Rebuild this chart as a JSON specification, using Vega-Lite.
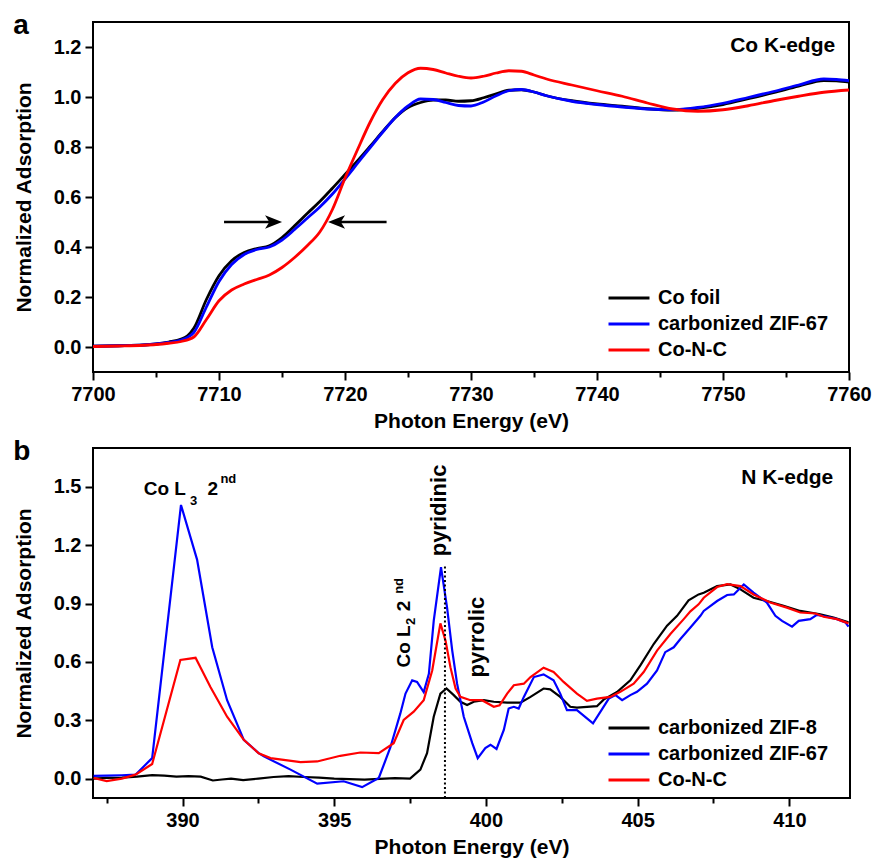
{
  "$schema": "https://vega.github.io/schema/vega-lite/v6.json",
  "background": "white",
  "padding": {"left": 12, "top": 11, "right": 2, "bottom": 2},
  "spacing": 5,
  "config": {
    "font": "Liberation Sans",
    "view": {"stroke": "black", "strokeWidth": 2},
    "axis": {
      "domain": false, "grid": false, "ticks": true, "tickColor": "black", "tickWidth": 2,
      "labelFont": "Liberation Sans", "labelFontSize": 20, "labelFontWeight": "bold", "labelColor": "black",
      "labelPadding": 4, "labelOverlap": false, "labelFlush": false,
      "titleFont": "Liberation Sans", "titleFontSize": 21, "titleFontWeight": "bold", "titleColor": "black"
    },
    "axisX": {"titlePadding": 6},
    "axisY": {"titlePadding": 19},
    "legend": {
      "title": null, "orient": "none", "symbolType": "M-2,0L2,0", "symbolSize": 420, "symbolStrokeWidth": 3,
      "labelFont": "Liberation Sans", "labelFontSize": 20, "labelFontWeight": "bold", "labelColor": "black",
      "labelOffset": 17, "padding": 0, "rowPadding": 4, "labelLimit": 400
    }
  },
  "datasets": {
    "a": [
      {"E":7700,"v":0.003,"s":"Co foil"},{"E":7702,"v":0.005,"s":"Co foil"},{"E":7704,"v":0.008,"s":"Co foil"},{"E":7705,"v":0.012,"s":"Co foil"},{"E":7706,"v":0.02,"s":"Co foil"},{"E":7707,"v":0.032,"s":"Co foil"},{"E":7707.5,"v":0.045,"s":"Co foil"},{"E":7708,"v":0.075,"s":"Co foil"},{"E":7709,"v":0.19,"s":"Co foil"},{"E":7710,"v":0.285,"s":"Co foil"},{"E":7711,"v":0.345,"s":"Co foil"},{"E":7712,"v":0.378,"s":"Co foil"},{"E":7713,"v":0.394,"s":"Co foil"},{"E":7714,"v":0.405,"s":"Co foil"},{"E":7715,"v":0.438,"s":"Co foil"},{"E":7716,"v":0.485,"s":"Co foil"},{"E":7717,"v":0.534,"s":"Co foil"},{"E":7718,"v":0.582,"s":"Co foil"},{"E":7719,"v":0.635,"s":"Co foil"},{"E":7720,"v":0.69,"s":"Co foil"},{"E":7721,"v":0.745,"s":"Co foil"},{"E":7722,"v":0.803,"s":"Co foil"},{"E":7723,"v":0.862,"s":"Co foil"},{"E":7724,"v":0.918,"s":"Co foil"},{"E":7725,"v":0.958,"s":"Co foil"},{"E":7726,"v":0.978,"s":"Co foil"},{"E":7727,"v":0.988,"s":"Co foil"},{"E":7728,"v":0.988,"s":"Co foil"},{"E":7729,"v":0.983,"s":"Co foil"},{"E":7730,"v":0.985,"s":"Co foil"},{"E":7731,"v":0.997,"s":"Co foil"},{"E":7732,"v":1.013,"s":"Co foil"},{"E":7733,"v":1.027,"s":"Co foil"},{"E":7734,"v":1.029,"s":"Co foil"},{"E":7735,"v":1.02,"s":"Co foil"},{"E":7736,"v":1.005,"s":"Co foil"},{"E":7738,"v":0.985,"s":"Co foil"},{"E":7740,"v":0.972,"s":"Co foil"},{"E":7742,"v":0.963,"s":"Co foil"},{"E":7744,"v":0.953,"s":"Co foil"},{"E":7746,"v":0.948,"s":"Co foil"},{"E":7748,"v":0.955,"s":"Co foil"},{"E":7750,"v":0.97,"s":"Co foil"},{"E":7752,"v":0.993,"s":"Co foil"},{"E":7754,"v":1.017,"s":"Co foil"},{"E":7756,"v":1.043,"s":"Co foil"},{"E":7758,"v":1.066,"s":"Co foil"},{"E":7759,"v":1.065,"s":"Co foil"},{"E":7760,"v":1.06,"s":"Co foil"},
      {"E":7700,"v":0.003,"s":"carbonized ZIF-67"},{"E":7702,"v":0.005,"s":"carbonized ZIF-67"},{"E":7704,"v":0.008,"s":"carbonized ZIF-67"},{"E":7705,"v":0.012,"s":"carbonized ZIF-67"},{"E":7706,"v":0.018,"s":"carbonized ZIF-67"},{"E":7707,"v":0.028,"s":"carbonized ZIF-67"},{"E":7707.5,"v":0.038,"s":"carbonized ZIF-67"},{"E":7708,"v":0.058,"s":"carbonized ZIF-67"},{"E":7709,"v":0.16,"s":"carbonized ZIF-67"},{"E":7710,"v":0.262,"s":"carbonized ZIF-67"},{"E":7711,"v":0.33,"s":"carbonized ZIF-67"},{"E":7712,"v":0.37,"s":"carbonized ZIF-67"},{"E":7713,"v":0.39,"s":"carbonized ZIF-67"},{"E":7714,"v":0.4,"s":"carbonized ZIF-67"},{"E":7715,"v":0.428,"s":"carbonized ZIF-67"},{"E":7716,"v":0.47,"s":"carbonized ZIF-67"},{"E":7717,"v":0.515,"s":"carbonized ZIF-67"},{"E":7718,"v":0.56,"s":"carbonized ZIF-67"},{"E":7719,"v":0.612,"s":"carbonized ZIF-67"},{"E":7720,"v":0.672,"s":"carbonized ZIF-67"},{"E":7721,"v":0.735,"s":"carbonized ZIF-67"},{"E":7722,"v":0.798,"s":"carbonized ZIF-67"},{"E":7723,"v":0.86,"s":"carbonized ZIF-67"},{"E":7724,"v":0.918,"s":"carbonized ZIF-67"},{"E":7725,"v":0.964,"s":"carbonized ZIF-67"},{"E":7726,"v":0.992,"s":"carbonized ZIF-67"},{"E":7727,"v":0.99,"s":"carbonized ZIF-67"},{"E":7728,"v":0.978,"s":"carbonized ZIF-67"},{"E":7729,"v":0.966,"s":"carbonized ZIF-67"},{"E":7730,"v":0.964,"s":"carbonized ZIF-67"},{"E":7731,"v":0.98,"s":"carbonized ZIF-67"},{"E":7732,"v":1.005,"s":"carbonized ZIF-67"},{"E":7733,"v":1.025,"s":"carbonized ZIF-67"},{"E":7734,"v":1.03,"s":"carbonized ZIF-67"},{"E":7735,"v":1.02,"s":"carbonized ZIF-67"},{"E":7736,"v":1.005,"s":"carbonized ZIF-67"},{"E":7738,"v":0.983,"s":"carbonized ZIF-67"},{"E":7740,"v":0.97,"s":"carbonized ZIF-67"},{"E":7742,"v":0.96,"s":"carbonized ZIF-67"},{"E":7744,"v":0.952,"s":"carbonized ZIF-67"},{"E":7746,"v":0.949,"s":"carbonized ZIF-67"},{"E":7748,"v":0.958,"s":"carbonized ZIF-67"},{"E":7750,"v":0.975,"s":"carbonized ZIF-67"},{"E":7752,"v":0.998,"s":"carbonized ZIF-67"},{"E":7754,"v":1.022,"s":"carbonized ZIF-67"},{"E":7756,"v":1.048,"s":"carbonized ZIF-67"},{"E":7758,"v":1.072,"s":"carbonized ZIF-67"},{"E":7759,"v":1.07,"s":"carbonized ZIF-67"},{"E":7760,"v":1.065,"s":"carbonized ZIF-67"},
      {"E":7700,"v":0.002,"s":"Co-N-C"},{"E":7702,"v":0.004,"s":"Co-N-C"},{"E":7704,"v":0.007,"s":"Co-N-C"},{"E":7705,"v":0.01,"s":"Co-N-C"},{"E":7706,"v":0.015,"s":"Co-N-C"},{"E":7707,"v":0.022,"s":"Co-N-C"},{"E":7708,"v":0.04,"s":"Co-N-C"},{"E":7709,"v":0.11,"s":"Co-N-C"},{"E":7710,"v":0.185,"s":"Co-N-C"},{"E":7711,"v":0.228,"s":"Co-N-C"},{"E":7712,"v":0.252,"s":"Co-N-C"},{"E":7713,"v":0.27,"s":"Co-N-C"},{"E":7714,"v":0.288,"s":"Co-N-C"},{"E":7715,"v":0.318,"s":"Co-N-C"},{"E":7716,"v":0.358,"s":"Co-N-C"},{"E":7717,"v":0.405,"s":"Co-N-C"},{"E":7718,"v":0.46,"s":"Co-N-C"},{"E":7719,"v":0.55,"s":"Co-N-C"},{"E":7720,"v":0.675,"s":"Co-N-C"},{"E":7721,"v":0.79,"s":"Co-N-C"},{"E":7722,"v":0.9,"s":"Co-N-C"},{"E":7723,"v":0.99,"s":"Co-N-C"},{"E":7724,"v":1.055,"s":"Co-N-C"},{"E":7725,"v":1.097,"s":"Co-N-C"},{"E":7726,"v":1.115,"s":"Co-N-C"},{"E":7727,"v":1.11,"s":"Co-N-C"},{"E":7728,"v":1.096,"s":"Co-N-C"},{"E":7729,"v":1.083,"s":"Co-N-C"},{"E":7730,"v":1.076,"s":"Co-N-C"},{"E":7731,"v":1.083,"s":"Co-N-C"},{"E":7732,"v":1.096,"s":"Co-N-C"},{"E":7733,"v":1.105,"s":"Co-N-C"},{"E":7734,"v":1.103,"s":"Co-N-C"},{"E":7735,"v":1.088,"s":"Co-N-C"},{"E":7736,"v":1.072,"s":"Co-N-C"},{"E":7738,"v":1.048,"s":"Co-N-C"},{"E":7740,"v":1.025,"s":"Co-N-C"},{"E":7742,"v":1.003,"s":"Co-N-C"},{"E":7744,"v":0.976,"s":"Co-N-C"},{"E":7746,"v":0.952,"s":"Co-N-C"},{"E":7748,"v":0.943,"s":"Co-N-C"},{"E":7750,"v":0.949,"s":"Co-N-C"},{"E":7752,"v":0.965,"s":"Co-N-C"},{"E":7754,"v":0.985,"s":"Co-N-C"},{"E":7756,"v":1.003,"s":"Co-N-C"},{"E":7758,"v":1.019,"s":"Co-N-C"},{"E":7760,"v":1.028,"s":"Co-N-C"}
    ],
    "b": [
      {"E":387.07,"v":0.0,"s":"carbonized ZIF-8"},{"E":387.5,"v":0.003,"s":"carbonized ZIF-8"},{"E":388.0,"v":0.005,"s":"carbonized ZIF-8"},{"E":388.5,"v":0.01,"s":"carbonized ZIF-8"},{"E":389.0,"v":0.018,"s":"carbonized ZIF-8"},{"E":389.4,"v":0.015,"s":"carbonized ZIF-8"},{"E":389.8,"v":0.01,"s":"carbonized ZIF-8"},{"E":390.2,"v":0.012,"s":"carbonized ZIF-8"},{"E":390.6,"v":0.01,"s":"carbonized ZIF-8"},{"E":391.0,"v":-0.01,"s":"carbonized ZIF-8"},{"E":391.3,"v":-0.005,"s":"carbonized ZIF-8"},{"E":391.6,"v":0.0,"s":"carbonized ZIF-8"},{"E":392.0,"v":-0.008,"s":"carbonized ZIF-8"},{"E":392.5,"v":0.0,"s":"carbonized ZIF-8"},{"E":393.0,"v":0.008,"s":"carbonized ZIF-8"},{"E":393.5,"v":0.012,"s":"carbonized ZIF-8"},{"E":394.0,"v":0.008,"s":"carbonized ZIF-8"},{"E":394.5,"v":0.005,"s":"carbonized ZIF-8"},{"E":395.0,"v":0.0,"s":"carbonized ZIF-8"},{"E":395.5,"v":-0.003,"s":"carbonized ZIF-8"},{"E":396.0,"v":-0.005,"s":"carbonized ZIF-8"},{"E":396.5,"v":-0.002,"s":"carbonized ZIF-8"},{"E":397.0,"v":0.002,"s":"carbonized ZIF-8"},{"E":397.5,"v":0.0,"s":"carbonized ZIF-8"},{"E":397.84,"v":0.046,"s":"carbonized ZIF-8"},{"E":398.06,"v":0.131,"s":"carbonized ZIF-8"},{"E":398.28,"v":0.318,"s":"carbonized ZIF-8"},{"E":398.5,"v":0.437,"s":"carbonized ZIF-8"},{"E":398.7,"v":0.463,"s":"carbonized ZIF-8"},{"E":398.94,"v":0.429,"s":"carbonized ZIF-8"},{"E":399.16,"v":0.395,"s":"carbonized ZIF-8"},{"E":399.38,"v":0.378,"s":"carbonized ZIF-8"},{"E":399.6,"v":0.395,"s":"carbonized ZIF-8"},{"E":399.93,"v":0.403,"s":"carbonized ZIF-8"},{"E":400.26,"v":0.395,"s":"carbonized ZIF-8"},{"E":400.7,"v":0.39,"s":"carbonized ZIF-8"},{"E":401.14,"v":0.39,"s":"carbonized ZIF-8"},{"E":401.47,"v":0.42,"s":"carbonized ZIF-8"},{"E":401.9,"v":0.463,"s":"carbonized ZIF-8"},{"E":402.12,"v":0.459,"s":"carbonized ZIF-8"},{"E":402.45,"v":0.42,"s":"carbonized ZIF-8"},{"E":402.78,"v":0.369,"s":"carbonized ZIF-8"},{"E":403.0,"v":0.365,"s":"carbonized ZIF-8"},{"E":403.33,"v":0.369,"s":"carbonized ZIF-8"},{"E":403.66,"v":0.372,"s":"carbonized ZIF-8"},{"E":403.88,"v":0.406,"s":"carbonized ZIF-8"},{"E":404.32,"v":0.445,"s":"carbonized ZIF-8"},{"E":404.76,"v":0.505,"s":"carbonized ZIF-8"},{"E":405.09,"v":0.582,"s":"carbonized ZIF-8"},{"E":405.53,"v":0.692,"s":"carbonized ZIF-8"},{"E":405.97,"v":0.786,"s":"carbonized ZIF-8"},{"E":406.3,"v":0.837,"s":"carbonized ZIF-8"},{"E":406.68,"v":0.917,"s":"carbonized ZIF-8"},{"E":407.01,"v":0.947,"s":"carbonized ZIF-8"},{"E":407.18,"v":0.956,"s":"carbonized ZIF-8"},{"E":407.62,"v":0.99,"s":"carbonized ZIF-8"},{"E":408.06,"v":0.998,"s":"carbonized ZIF-8"},{"E":408.39,"v":0.973,"s":"carbonized ZIF-8"},{"E":408.82,"v":0.93,"s":"carbonized ZIF-8"},{"E":409.26,"v":0.913,"s":"carbonized ZIF-8"},{"E":409.81,"v":0.888,"s":"carbonized ZIF-8"},{"E":410.36,"v":0.862,"s":"carbonized ZIF-8"},{"E":411.02,"v":0.845,"s":"carbonized ZIF-8"},{"E":411.46,"v":0.828,"s":"carbonized ZIF-8"},{"E":411.95,"v":0.803,"s":"carbonized ZIF-8"},
      {"E":387.07,"v":0.014,"s":"carbonized ZIF-67"},{"E":387.5,"v":0.015,"s":"carbonized ZIF-67"},{"E":388.0,"v":0.017,"s":"carbonized ZIF-67"},{"E":388.45,"v":0.02,"s":"carbonized ZIF-67"},{"E":389.0,"v":0.105,"s":"carbonized ZIF-67"},{"E":389.95,"v":1.407,"s":"carbonized ZIF-67"},{"E":390.48,"v":1.126,"s":"carbonized ZIF-67"},{"E":390.98,"v":0.675,"s":"carbonized ZIF-67"},{"E":391.47,"v":0.403,"s":"carbonized ZIF-67"},{"E":392.02,"v":0.199,"s":"carbonized ZIF-67"},{"E":392.51,"v":0.131,"s":"carbonized ZIF-67"},{"E":392.68,"v":0.114,"s":"carbonized ZIF-67"},{"E":393.56,"v":0.046,"s":"carbonized ZIF-67"},{"E":394.44,"v":-0.026,"s":"carbonized ZIF-67"},{"E":395.31,"v":-0.014,"s":"carbonized ZIF-67"},{"E":395.92,"v":-0.044,"s":"carbonized ZIF-67"},{"E":396.47,"v":0.003,"s":"carbonized ZIF-67"},{"E":396.85,"v":0.16,"s":"carbonized ZIF-67"},{"E":397.18,"v":0.335,"s":"carbonized ZIF-67"},{"E":397.35,"v":0.437,"s":"carbonized ZIF-67"},{"E":397.57,"v":0.505,"s":"carbonized ZIF-67"},{"E":397.73,"v":0.497,"s":"carbonized ZIF-67"},{"E":397.95,"v":0.445,"s":"carbonized ZIF-67"},{"E":398.12,"v":0.539,"s":"carbonized ZIF-67"},{"E":398.28,"v":0.811,"s":"carbonized ZIF-67"},{"E":398.52,"v":1.087,"s":"carbonized ZIF-67"},{"E":398.72,"v":0.879,"s":"carbonized ZIF-67"},{"E":398.89,"v":0.658,"s":"carbonized ZIF-67"},{"E":399.05,"v":0.488,"s":"carbonized ZIF-67"},{"E":399.27,"v":0.318,"s":"carbonized ZIF-67"},{"E":399.55,"v":0.182,"s":"carbonized ZIF-67"},{"E":399.73,"v":0.105,"s":"carbonized ZIF-67"},{"E":399.98,"v":0.157,"s":"carbonized ZIF-67"},{"E":400.15,"v":0.174,"s":"carbonized ZIF-67"},{"E":400.35,"v":0.152,"s":"carbonized ZIF-67"},{"E":400.59,"v":0.25,"s":"carbonized ZIF-67"},{"E":400.75,"v":0.36,"s":"carbonized ZIF-67"},{"E":400.92,"v":0.369,"s":"carbonized ZIF-67"},{"E":401.08,"v":0.36,"s":"carbonized ZIF-67"},{"E":401.25,"v":0.42,"s":"carbonized ZIF-67"},{"E":401.58,"v":0.522,"s":"carbonized ZIF-67"},{"E":401.9,"v":0.536,"s":"carbonized ZIF-67"},{"E":402.23,"v":0.505,"s":"carbonized ZIF-67"},{"E":402.45,"v":0.437,"s":"carbonized ZIF-67"},{"E":402.67,"v":0.352,"s":"carbonized ZIF-67"},{"E":403.0,"v":0.352,"s":"carbonized ZIF-67"},{"E":403.53,"v":0.284,"s":"carbonized ZIF-67"},{"E":404.05,"v":0.411,"s":"carbonized ZIF-67"},{"E":404.27,"v":0.429,"s":"carbonized ZIF-67"},{"E":404.49,"v":0.403,"s":"carbonized ZIF-67"},{"E":404.76,"v":0.429,"s":"carbonized ZIF-67"},{"E":404.98,"v":0.446,"s":"carbonized ZIF-67"},{"E":405.31,"v":0.488,"s":"carbonized ZIF-67"},{"E":405.64,"v":0.556,"s":"carbonized ZIF-67"},{"E":405.91,"v":0.65,"s":"carbonized ZIF-67"},{"E":406.19,"v":0.675,"s":"carbonized ZIF-67"},{"E":406.41,"v":0.718,"s":"carbonized ZIF-67"},{"E":406.74,"v":0.777,"s":"carbonized ZIF-67"},{"E":407.07,"v":0.837,"s":"carbonized ZIF-67"},{"E":407.18,"v":0.862,"s":"carbonized ZIF-67"},{"E":407.62,"v":0.913,"s":"carbonized ZIF-67"},{"E":407.95,"v":0.944,"s":"carbonized ZIF-67"},{"E":408.17,"v":0.947,"s":"carbonized ZIF-67"},{"E":408.5,"v":0.998,"s":"carbonized ZIF-67"},{"E":408.82,"v":0.956,"s":"carbonized ZIF-67"},{"E":409.26,"v":0.905,"s":"carbonized ZIF-67"},{"E":409.54,"v":0.837,"s":"carbonized ZIF-67"},{"E":409.76,"v":0.811,"s":"carbonized ZIF-67"},{"E":410.09,"v":0.781,"s":"carbonized ZIF-67"},{"E":410.31,"v":0.811,"s":"carbonized ZIF-67"},{"E":410.69,"v":0.82,"s":"carbonized ZIF-67"},{"E":410.91,"v":0.842,"s":"carbonized ZIF-67"},{"E":411.24,"v":0.832,"s":"carbonized ZIF-67"},{"E":411.57,"v":0.82,"s":"carbonized ZIF-67"},{"E":411.85,"v":0.803,"s":"carbonized ZIF-67"},{"E":411.95,"v":0.781,"s":"carbonized ZIF-67"},
      {"E":387.07,"v":0.003,"s":"Co-N-C"},{"E":387.5,"v":-0.013,"s":"Co-N-C"},{"E":388.0,"v":0.0,"s":"Co-N-C"},{"E":388.45,"v":0.02,"s":"Co-N-C"},{"E":389.0,"v":0.075,"s":"Co-N-C"},{"E":389.93,"v":0.61,"s":"Co-N-C"},{"E":390.43,"v":0.621,"s":"Co-N-C"},{"E":390.92,"v":0.471,"s":"Co-N-C"},{"E":391.47,"v":0.318,"s":"Co-N-C"},{"E":392.02,"v":0.199,"s":"Co-N-C"},{"E":392.51,"v":0.13,"s":"Co-N-C"},{"E":392.9,"v":0.105,"s":"Co-N-C"},{"E":393.89,"v":0.085,"s":"Co-N-C"},{"E":394.44,"v":0.088,"s":"Co-N-C"},{"E":395.2,"v":0.117,"s":"Co-N-C"},{"E":395.86,"v":0.134,"s":"Co-N-C"},{"E":396.47,"v":0.131,"s":"Co-N-C"},{"E":396.96,"v":0.182,"s":"Co-N-C"},{"E":397.29,"v":0.301,"s":"Co-N-C"},{"E":397.62,"v":0.344,"s":"Co-N-C"},{"E":397.95,"v":0.403,"s":"Co-N-C"},{"E":398.23,"v":0.556,"s":"Co-N-C"},{"E":398.5,"v":0.798,"s":"Co-N-C"},{"E":398.67,"v":0.709,"s":"Co-N-C"},{"E":398.83,"v":0.573,"s":"Co-N-C"},{"E":399.0,"v":0.463,"s":"Co-N-C"},{"E":399.16,"v":0.42,"s":"Co-N-C"},{"E":399.49,"v":0.403,"s":"Co-N-C"},{"E":399.87,"v":0.403,"s":"Co-N-C"},{"E":400.26,"v":0.369,"s":"Co-N-C"},{"E":400.45,"v":0.377,"s":"Co-N-C"},{"E":400.7,"v":0.437,"s":"Co-N-C"},{"E":400.92,"v":0.48,"s":"Co-N-C"},{"E":401.25,"v":0.488,"s":"Co-N-C"},{"E":401.47,"v":0.522,"s":"Co-N-C"},{"E":401.9,"v":0.57,"s":"Co-N-C"},{"E":402.23,"v":0.548,"s":"Co-N-C"},{"E":402.56,"v":0.497,"s":"Co-N-C"},{"E":403.0,"v":0.437,"s":"Co-N-C"},{"E":403.33,"v":0.4,"s":"Co-N-C"},{"E":403.66,"v":0.411,"s":"Co-N-C"},{"E":404.1,"v":0.42,"s":"Co-N-C"},{"E":404.43,"v":0.446,"s":"Co-N-C"},{"E":404.87,"v":0.488,"s":"Co-N-C"},{"E":405.2,"v":0.548,"s":"Co-N-C"},{"E":405.64,"v":0.658,"s":"Co-N-C"},{"E":406.08,"v":0.743,"s":"Co-N-C"},{"E":406.52,"v":0.82,"s":"Co-N-C"},{"E":406.74,"v":0.86,"s":"Co-N-C"},{"E":407.01,"v":0.896,"s":"Co-N-C"},{"E":407.18,"v":0.93,"s":"Co-N-C"},{"E":407.62,"v":0.985,"s":"Co-N-C"},{"E":407.95,"v":1.0,"s":"Co-N-C"},{"E":408.39,"v":0.99,"s":"Co-N-C"},{"E":408.82,"v":0.947,"s":"Co-N-C"},{"E":409.37,"v":0.905,"s":"Co-N-C"},{"E":409.92,"v":0.879,"s":"Co-N-C"},{"E":410.36,"v":0.854,"s":"Co-N-C"},{"E":410.86,"v":0.849,"s":"Co-N-C"},{"E":411.13,"v":0.832,"s":"Co-N-C"},{"E":411.57,"v":0.82,"s":"Co-N-C"},{"E":411.95,"v":0.798,"s":"Co-N-C"}
    ]
  },
  "vconcat": [
    {
      "width": 756, "height": 350,
      "title": {"text": "a", "anchor": "start", "frame": "bounds", "fontSize": 28, "fontWeight": "bold", "font": "Liberation Sans", "color": "black", "offset": -10, "baseline": "alphabetic", "dy": 30},
      "layer": [
        {
          "data": {"name": "a"},
          "mark": {"type": "line", "interpolate": "monotone", "strokeWidth": 2.8},
          "encoding": {
            "x": {"field": "E", "type": "quantitative", "scale": {"domain": [7700, 7760], "nice": false, "zero": false},
              "axis": {"title": "Photon Energy (eV)", "values": [7700,7705,7710,7715,7720,7725,7730,7735,7740,7745,7750,7755,7760], "format": "d",
                "labelExpr": "datum.value % 10 == 0 ? datum.label : ''",
                "tickSize": {"condition": {"test": "datum.value % 10 != 0", "value": 5}, "value": 8}}},
            "y": {"field": "v", "type": "quantitative", "scale": {"domain": [-0.1, 1.3], "nice": false, "zero": false},
              "axis": {"title": "Normalized Adsorption", "values": [0,0.1,0.2,0.3,0.4,0.5,0.6,0.7,0.8,0.9,1,1.1,1.2], "format": ".1f",
                "labelExpr": "indexof([0.1,0.3,0.5,0.7,0.9,1.1], datum.value) >= 0 ? '' : datum.label",
                "tickSize": {"condition": {"test": "indexof([0.1,0.3,0.5,0.7,0.9,1.1], datum.value) >= 0", "value": 5}, "value": 8}}},
            "color": {"field": "s", "type": "nominal", "sort": null,
              "scale": {"domain": ["Co foil", "carbonized ZIF-67", "Co-N-C"], "range": ["#000000", "#0000ff", "#ff0000"]},
              "legend": {"title": null, "orient": "none", "legendX": 524, "legendY": 264}}
          }
        },
        {
          "data": {"values": [{"E": 7710.4, "E2": 7714.3, "v": 0.5}, {"E": 7719.3, "E2": 7723.3, "v": 0.5}]},
          "mark": {"type": "rule", "strokeWidth": 2.5, "color": "black"},
          "encoding": {"x": {"field": "E", "type": "quantitative"}, "x2": {"field": "E2"}, "y": {"field": "v", "type": "quantitative"}}
        },
        {
          "data": {"values": [{"E": 7714.33, "v": 0.5}]},
          "mark": {"type": "point", "shape": "M-1,-0.8L1,0L-1,0.8L-0.5,0Z", "filled": true, "color": "black", "opacity": 1, "size": 289},
          "encoding": {"x": {"field": "E", "type": "quantitative"}, "y": {"field": "v", "type": "quantitative"}}
        },
        {
          "data": {"values": [{"E": 7719.33, "v": 0.5}]},
          "mark": {"type": "point", "shape": "M1,-0.8L-1,0L1,0.8L0.5,0Z", "filled": true, "color": "black", "opacity": 1, "size": 289},
          "encoding": {"x": {"field": "E", "type": "quantitative"}, "y": {"field": "v", "type": "quantitative"}}
        },
        {
          "data": {"values": [{"E": 7758.9, "v": 1.18, "t": "Co K-edge"}]},
          "mark": {"type": "text", "align": "right", "baseline": "alphabetic", "fontSize": 21, "fontWeight": "bold", "font": "Liberation Sans", "color": "black"},
          "encoding": {"x": {"field": "E", "type": "quantitative"}, "y": {"field": "v", "type": "quantitative"}, "text": {"field": "t"}}
        }
      ]
    },
    {
      "width": 757, "height": 350,
      "title": {"text": "b", "anchor": "start", "frame": "bounds", "fontSize": 28, "fontWeight": "bold", "font": "Liberation Sans", "color": "black", "offset": -10, "baseline": "alphabetic", "dy": 30},
      "layer": [
        {
          "data": {"name": "b"},
          "mark": {"type": "line", "strokeWidth": 2.2},
          "encoding": {
            "x": {"field": "E", "type": "quantitative", "scale": {"domain": [387.05, 412], "nice": false, "zero": false},
              "axis": {"title": "Photon Energy (eV)", "values": [387.5,390,392.5,395,397.5,400,402.5,405,407.5,410], "format": "d",
                "labelExpr": "datum.value % 5 == 0 ? datum.label : ''",
                "tickSize": {"condition": {"test": "datum.value % 5 != 0", "value": 5}, "value": 8}}},
            "y": {"field": "v", "type": "quantitative", "scale": {"domain": [-0.1, 1.7], "nice": false, "zero": false},
              "axis": {"title": "Normalized Adsorption", "values": [0,0.15,0.3,0.45,0.6,0.75,0.9,1.05,1.2,1.35,1.5,1.65], "format": ".1f",
                "labelExpr": "indexof([0.15,0.45,0.75,1.05,1.35,1.65], datum.value) >= 0 ? '' : datum.label",
                "tickSize": {"condition": {"test": "indexof([0.15,0.45,0.75,1.05,1.35,1.65], datum.value) >= 0", "value": 5}, "value": 8}}},
            "color": {"field": "s", "type": "nominal", "sort": null,
              "scale": {"domain": ["carbonized ZIF-8", "carbonized ZIF-67", "Co-N-C"], "range": ["#000000", "#0000ff", "#ff0000"]},
              "legend": {"title": null, "orient": "none", "legendX": 524, "legendY": 268}}
          }
        },
        {
          "data": {"values": [{"E": 398.65, "v": -0.1, "v2": 1.09}]},
          "mark": {"type": "rule", "strokeWidth": 2, "strokeDash": [2, 2.5], "color": "black"},
          "encoding": {"x": {"field": "E", "type": "quantitative"}, "y": {"field": "v", "type": "quantitative"}, "y2": {"field": "v2"}}
        },
        {
          "data": {"values": [{"E": 388.72, "v": 1.459, "t": "Co L"}, {"E": 390.82, "v": 1.459, "t": "2"}]},
          "mark": {"type": "text", "align": "left", "baseline": "alphabetic", "fontSize": 19, "fontWeight": "bold", "font": "Liberation Sans", "color": "black"},
          "encoding": {"x": {"field": "E", "type": "quantitative"}, "y": {"field": "v", "type": "quantitative"}, "text": {"field": "t"}}
        },
        {
          "data": {"values": [{"E": 390.25, "v": 1.408, "t": "3"}, {"E": 391.25, "v": 1.52, "t": "nd"}]},
          "mark": {"type": "text", "align": "left", "baseline": "alphabetic", "fontSize": 13, "fontWeight": "bold", "font": "Liberation Sans", "color": "black"},
          "encoding": {"x": {"field": "E", "type": "quantitative"}, "y": {"field": "v", "type": "quantitative"}, "text": {"field": "t"}}
        },
        {
          "data": {"values": [{"E": 397.51, "v": 0.571, "t": "Co L"}, {"E": 397.51, "v": 0.86, "t": "2"}]},
          "mark": {"type": "text", "angle": 270, "align": "left", "baseline": "alphabetic", "fontSize": 19, "fontWeight": "bold", "font": "Liberation Sans", "color": "black"},
          "encoding": {"x": {"field": "E", "type": "quantitative"}, "y": {"field": "v", "type": "quantitative"}, "text": {"field": "t"}}
        },
        {
          "data": {"values": [{"E": 397.66, "v": 0.79, "t": "2"}, {"E": 397.28, "v": 0.95, "t": "nd"}]},
          "mark": {"type": "text", "angle": 270, "align": "left", "baseline": "alphabetic", "fontSize": 13, "fontWeight": "bold", "font": "Liberation Sans", "color": "black"},
          "encoding": {"x": {"field": "E", "type": "quantitative"}, "y": {"field": "v", "type": "quantitative"}, "text": {"field": "t"}}
        },
        {
          "data": {"values": [{"E": 398.7, "v": 1.143, "t": "pyridinic"}, {"E": 399.95, "v": 0.52, "t": "pyrrolic"}]},
          "mark": {"type": "text", "angle": 270, "align": "left", "baseline": "alphabetic", "fontSize": 22, "fontWeight": "bold", "font": "Liberation Sans", "color": "black"},
          "encoding": {"x": {"field": "E", "type": "quantitative"}, "y": {"field": "v", "type": "quantitative"}, "text": {"field": "t"}}
        },
        {
          "data": {"values": [{"E": 411.45, "v": 1.515, "t": "N K-edge"}]},
          "mark": {"type": "text", "align": "right", "baseline": "alphabetic", "fontSize": 21, "fontWeight": "bold", "font": "Liberation Sans", "color": "black"},
          "encoding": {"x": {"field": "E", "type": "quantitative"}, "y": {"field": "v", "type": "quantitative"}, "text": {"field": "t"}}
        }
      ]
    }
  ],
  "resolve": {"scale": {"color": "independent"}, "legend": {"color": "independent"}}
}
